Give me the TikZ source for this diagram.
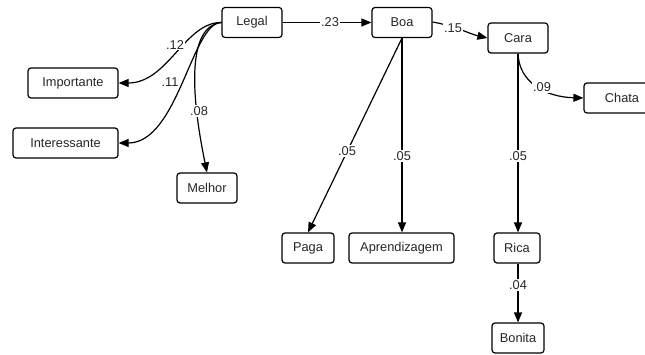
\documentclass[tikz,border=0pt]{standalone}
\usepackage{fontspec}
\setmainfont{Liberation Sans}
\usetikzlibrary{arrows.meta}
\begin{document}
\begin{tikzpicture}[x=1pt,y=-1pt,
  box/.style={draw, rounded corners=3pt, line width=1.2pt, minimum height=30pt, inner sep=0pt, fill=white, text=black!85, font=\fontsize{12.8}{15}\selectfont},
  lbl/.style={fill=white, inner sep=1pt, text=black!85, font=\fontsize{12.8}{15}\selectfont},
  edge/.style={line width=1.2pt, -{Triangle[length=10pt,width=8pt]}}]
\path[use as bounding box] (0,0) rectangle (645,355);
% nodes
\node[box, minimum width=60pt] (legal) at (252,22.5) {Legal};
\node[box, minimum width=90pt] (imp) at (73,83) {Importante};
\node[box, minimum width=105pt] (int) at (65.5,143) {Interessante};
\node[box, minimum width=60pt] (mel) at (207,188) {Melhor};
\node[box, minimum width=60pt] (boa) at (402,22.5) {Boa};
\node[box, minimum width=60pt] (cara) at (518,38) {Cara};
\node[box, minimum width=76pt] (chata) at (622,98) {Chata};
\node[box, minimum width=52pt] (paga) at (308,248) {Paga};
\node[box, minimum width=105pt] (apr) at (401.5,248) {Aprendizagem};
\node[box, minimum width=46pt] (rica) at (517,248) {Rica};
\node[box, minimum width=52pt] (bon) at (518,338) {Bonita};
% edges
\draw[edge] (legal.east) -- (boa.west);
\draw[edge] (legal.west) .. controls (185,22) and (168,83) .. (imp.east);
\draw[edge] (legal.west) .. controls (192,22) and (178,143) .. (int.east);
\draw[edge] (legal.west) .. controls (188,26) and (190,90) .. (mel.north);
\draw[edge] ([yshift=0.5pt]boa.east) .. controls (455,26) and (470,34) .. (cara.west);
\draw[edge] (boa.south) -- (paga.north);
\draw[edge] (boa.south) -- (apr.north -| boa.south);
\draw[edge] (cara.south) .. controls (519,82) and (545,97) .. (chata.west);
\draw[edge] (cara.south) -- (rica.north -| cara.south);
\draw[edge] (rica.south -| bon.north) -- (bon.north);
% labels
\node[lbl] (l23) at (330,22.5) {.23};
\node[lbl] (l12) at (175,45) {.12};
\node[lbl] (l11) at (170,82) {.11};
\node[lbl] (l08) at (199,111) {.08};
\node[lbl] (l15) at (453,28) {.15};
\node[lbl] (l09) at (542,87) {.09};
\node[lbl] (l05a) at (347,151) {.05};
\node[lbl] (l05b) at (402,156) {.05};
\node[lbl] (l05c) at (518,156) {.05};
\node[lbl] (l04) at (518,285) {.04};
\end{tikzpicture}
\end{document}
